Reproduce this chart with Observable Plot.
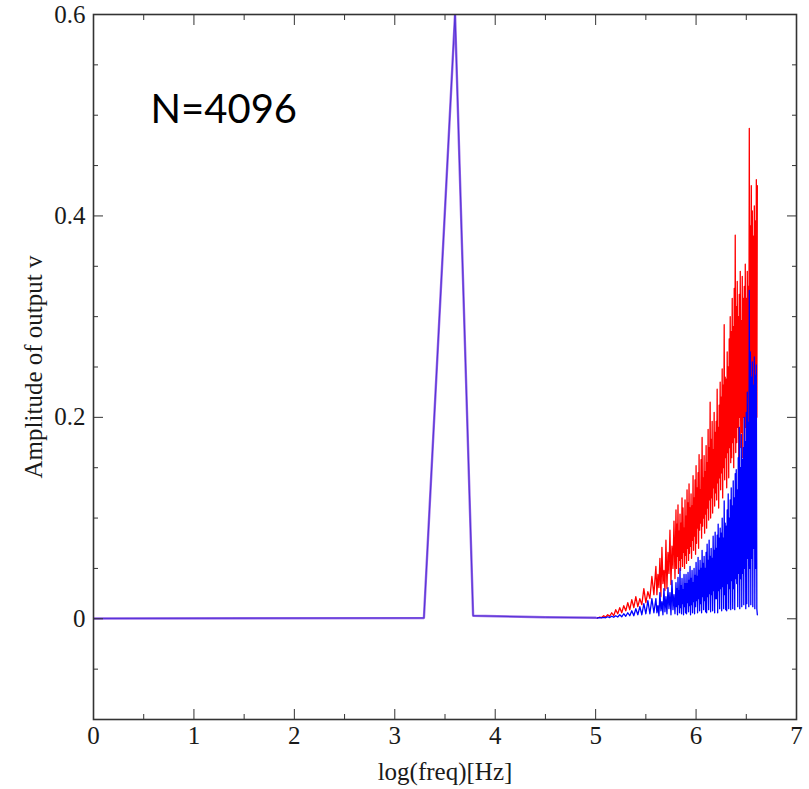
<!DOCTYPE html>
<html>
<head>
<meta charset="utf-8">
<script src="https://cdn.jsdelivr.net/npm/d3@7"></script>
<script src="https://cdn.jsdelivr.net/npm/@observablehq/plot@0.6"></script>
<style>
  html, body { margin: 0; padding: 0; background: #fff; }
  #chart { width: 809px; height: 789px; }
</style>
</head>
<body>
<div id="chart"></div>
<script>
// ---- data ----
const annotation = "N=4096";
const xLabel = "log(freq)[Hz]";
const yLabel = "Amplitude of output v";

const xMajorTicks = [0, 1, 2, 3, 4, 5, 6, 7];
const xMinorTicks = [0.5, 1.5, 2.5, 3.5, 4.5, 5.5, 6.5];
const yMajorTicks = [0, 0.2, 0.4, 0.6];
const yMinorTicks = [-0.1, -0.05, 0.05, 0.1, 0.15, 0.25, 0.3, 0.35, 0.45, 0.5, 0.55];

// common part of both spectra (the two curves coincide here)
const sharedX = [0, 3.29, 3.6, 3.78, 4.5, 5.0];
const sharedY = [0.0003, 0.0008, 0.6, 0.003, 0.0015, 0.001];

// high-frequency part, where the two spectra separate
const noiseX = [
  5.00, 5.02, 5.04, 5.06, 5.08, 5.10, 5.12, 5.14, 5.16, 5.18,
  5.20, 5.22, 5.24, 5.26, 5.28, 5.30, 5.32, 5.34, 5.36, 5.38,
  5.40, 5.42, 5.44, 5.46, 5.48, 5.50, 5.52, 5.54, 5.56, 5.58,
  5.60, 5.61, 5.62, 5.63, 5.64, 5.65, 5.66, 5.67, 5.68, 5.69,
  5.70, 5.71, 5.72, 5.73, 5.74, 5.75, 5.76, 5.77, 5.78, 5.79,
  5.800, 5.805, 5.810, 5.815, 5.820, 5.825, 5.830, 5.835, 5.840, 5.845,
  5.850, 5.855, 5.860, 5.865, 5.870, 5.875, 5.880, 5.885, 5.890, 5.895,
  5.900, 5.905, 5.910, 5.915, 5.920, 5.925, 5.930, 5.935, 5.940, 5.945,
  5.950, 5.955, 5.960, 5.965, 5.970, 5.975, 5.980, 5.985, 5.990, 5.995,
  6.000, 6.005, 6.010, 6.015, 6.020, 6.025, 6.030, 6.035, 6.040, 6.045,
  6.050, 6.055, 6.060, 6.065, 6.070, 6.075, 6.080, 6.085, 6.090, 6.095,
  6.100, 6.105, 6.110, 6.115, 6.120, 6.125, 6.130, 6.135, 6.140, 6.145,
  6.150, 6.155, 6.160, 6.165, 6.170, 6.175, 6.180, 6.185, 6.190, 6.195,
  6.200, 6.205, 6.210, 6.215, 6.220, 6.225, 6.230, 6.235, 6.240, 6.245,
  6.250, 6.255, 6.260, 6.265, 6.270, 6.275, 6.280, 6.285, 6.290, 6.295,
  6.300, 6.305, 6.310, 6.315, 6.320, 6.325, 6.330, 6.335, 6.340, 6.345,
  6.350, 6.355, 6.360, 6.365, 6.370, 6.375, 6.380, 6.385, 6.390, 6.395,
  6.400, 6.405, 6.410, 6.415, 6.420, 6.425, 6.430, 6.435, 6.440, 6.445,
  6.450, 6.455, 6.460, 6.465, 6.470, 6.475, 6.480, 6.485, 6.490, 6.495,
  6.500, 6.505, 6.510, 6.515, 6.520, 6.525, 6.530, 6.535, 6.540, 6.545,
  6.550, 6.555, 6.560, 6.565, 6.570, 6.575, 6.580, 6.585, 6.590, 6.595,
  6.600, 6.605, 6.610
];

const redY = [
  0.001, 0.0008, 0.0016, 0.0012, 0.003, 0.0018, 0.004, 0.0025, 0.006, 0.003,
  0.009, 0.005, 0.011, 0.006, 0.013, 0.008, 0.016, 0.009, 0.019, 0.011,
  0.022, 0.012, 0.02, 0.014, 0.03, 0.016, 0.027, 0.02, 0.042, 0.024,
  0.052, 0.024, 0.044, 0.031, 0.06, 0.022, 0.071, 0.035, 0.048, 0.028,
  0.078, 0.03, 0.066, 0.045, 0.088, 0.034, 0.072, 0.05, 0.097, 0.04,
  0.108, 0.05, 0.094, 0.062, 0.113, 0.045, 0.087, 0.058, 0.104, 0.048,
  0.095, 0.06, 0.12, 0.052, 0.11, 0.066, 0.09, 0.05, 0.118, 0.063,
  0.102, 0.055, 0.128, 0.07, 0.115, 0.058, 0.134, 0.065, 0.11, 0.072,
  0.124, 0.06, 0.112, 0.078, 0.142, 0.068, 0.12, 0.082, 0.138, 0.064,
  0.152, 0.075, 0.13, 0.09, 0.145, 0.07, 0.163, 0.088, 0.128, 0.095,
  0.158, 0.08, 0.18, 0.092, 0.14, 0.1, 0.162, 0.085, 0.146, 0.104,
  0.172, 0.09, 0.155, 0.11, 0.188, 0.098, 0.17, 0.118, 0.215, 0.1,
  0.178, 0.12, 0.196, 0.105, 0.168, 0.13, 0.205, 0.112, 0.185, 0.125,
  0.196, 0.118, 0.228, 0.135, 0.19, 0.11, 0.212, 0.14, 0.235, 0.128,
  0.22, 0.145, 0.248, 0.12, 0.232, 0.15, 0.292, 0.138, 0.24, 0.16,
  0.238, 0.13, 0.265, 0.165, 0.25, 0.14, 0.278, 0.17, 0.3, 0.155,
  0.285, 0.16, 0.318, 0.175, 0.29, 0.15, 0.328, 0.18, 0.381, 0.165,
  0.31, 0.175, 0.335, 0.19, 0.3, 0.16, 0.322, 0.2, 0.345, 0.17,
  0.296, 0.185, 0.34, 0.16, 0.318, 0.2, 0.33, 0.175, 0.352, 0.19,
  0.318, 0.15, 0.345, 0.22, 0.33, 0.18, 0.487, 0.2, 0.39, 0.24,
  0.43, 0.18, 0.405, 0.22, 0.38, 0.16, 0.41, 0.2, 0.395, 0.17,
  0.436, 0.2, 0.43
];

const blueY = [
  0.001, 0.0008, 0.0012, 0.0009, 0.0015, 0.001, 0.002, 0.0012, 0.0025, 0.0015,
  0.003, 0.0018, 0.004, 0.002, 0.005, 0.0025, 0.006, 0.003, 0.008, 0.003,
  0.01, 0.004, 0.012, 0.004, 0.015, 0.005, 0.018, 0.005, 0.02, 0.006,
  0.02, 0.006, 0.013, 0.003, 0.026, 0.008, 0.017, 0.004, 0.03, 0.007,
  0.022, 0.005, 0.031, 0.01, 0.026, 0.004, 0.038, 0.009, 0.024, 0.005,
  0.036, 0.012, 0.03, 0.004, 0.041, 0.014, 0.028, 0.006, 0.05, 0.011,
  0.033, 0.005, 0.04, 0.015, 0.029, 0.004, 0.044, 0.012, 0.035, 0.006,
  0.044, 0.005, 0.035, 0.016, 0.046, 0.007, 0.038, 0.013, 0.052, 0.004,
  0.04, 0.014, 0.048, 0.006, 0.036, 0.017, 0.05, 0.005, 0.043, 0.012,
  0.056, 0.018, 0.042, 0.006, 0.061, 0.02, 0.048, 0.008, 0.058, 0.015,
  0.05, 0.006, 0.068, 0.022, 0.055, 0.009, 0.062, 0.018, 0.05, 0.007,
  0.066, 0.006, 0.074, 0.022, 0.058, 0.009, 0.078, 0.025, 0.062, 0.007,
  0.07, 0.024, 0.06, 0.008, 0.082, 0.028, 0.068, 0.006, 0.086, 0.02,
  0.07, 0.02, 0.083, 0.006, 0.094, 0.028, 0.08, 0.01, 0.09, 0.03,
  0.085, 0.008, 0.1, 0.032, 0.08, 0.01, 0.117, 0.024, 0.095, 0.009,
  0.092, 0.008, 0.108, 0.035, 0.124, 0.01, 0.1, 0.03, 0.118, 0.009,
  0.13, 0.038, 0.112, 0.01, 0.137, 0.03, 0.12, 0.009, 0.144, 0.04,
  0.148, 0.035, 0.128, 0.012, 0.16, 0.045, 0.19, 0.01, 0.15, 0.04,
  0.183, 0.012, 0.158, 0.045, 0.17, 0.014, 0.2, 0.05, 0.176, 0.01,
  0.205, 0.015, 0.225, 0.06, 0.195, 0.012, 0.326, 0.05, 0.265, 0.014,
  0.24, 0.06, 0.255, 0.012, 0.232, 0.07, 0.26, 0.01, 0.242, 0.05,
  0.252, 0.01, 0.004
];

// ---- tables built from the arrays ----
const shared = sharedX.map((x, i) => ({x, y: sharedY[i]}));
const red = noiseX.map((x, i) => ({x, y: redY[i]}));
const blue = noiseX.map((x, i) => ({x, y: blueY[i]}));

const serif = "'Liberation Serif', 'Times New Roman', serif";
const axisColor = "#333";
const noText = () => "";

const chart = Plot.plot({
  width: 809,
  height: 789,
  marginLeft: 93,
  marginRight: 13,
  marginTop: 14,
  marginBottom: 70,
  x: {domain: [0, 7]},
  y: {domain: [-0.1, 0.6]},
  style: {fontFamily: serif, fontSize: "25px", color: "#1a1a1a", background: "#fff"},
  marks: [
    // data
    Plot.line(red, {x: "x", y: "y", stroke: "#ff0000", strokeWidth: 1.3, clip: true}),
    Plot.line(blue, {x: "x", y: "y", stroke: "#0000ff", strokeWidth: 1.3, clip: true}),
    Plot.line(shared, {x: "x", y: "y", stroke: "#9a6ae6", strokeWidth: 2.4, clip: true}),
    Plot.line(shared, {x: "x", y: "y", stroke: "#4b2bd6", strokeWidth: 0.9, clip: true}),

    // tick labels
    Plot.axisX(xMajorTicks, {anchor: "bottom", tickSize: 0, tickPadding: 7, label: null, fontSize: 25, fontFamily: serif}),
    Plot.axisY(yMajorTicks, {anchor: "left", tickSize: 0, tickPadding: 8, label: null, fontSize: 25, fontFamily: serif, tickFormat: d => d === 0 ? "0" : d3.format(".1f")(d)}),

    // inward tick marks on all four sides
    Plot.axisX(xMajorTicks, {anchor: "bottom", tickSize: -10, tickFormat: noText, label: null, stroke: axisColor}),
    Plot.axisX(xMinorTicks, {anchor: "bottom", tickSize: -5, tickFormat: noText, label: null, stroke: axisColor}),
    Plot.axisX(xMajorTicks, {anchor: "top", tickSize: -10, tickFormat: noText, label: null, stroke: axisColor}),
    Plot.axisX(xMinorTicks, {anchor: "top", tickSize: -5, tickFormat: noText, label: null, stroke: axisColor}),
    Plot.axisY(yMajorTicks, {anchor: "left", tickSize: -10, tickFormat: noText, label: null, stroke: axisColor}),
    Plot.axisY(yMinorTicks, {anchor: "left", tickSize: -5, tickFormat: noText, label: null, stroke: axisColor}),
    Plot.axisY(yMajorTicks, {anchor: "right", tickSize: -10, tickFormat: noText, label: null, stroke: axisColor}),
    Plot.axisY(yMinorTicks, {anchor: "right", tickSize: -5, tickFormat: noText, label: null, stroke: axisColor}),

    Plot.frame({stroke: axisColor, strokeWidth: 1.6}),

    // axis titles
    Plot.text([xLabel], {frameAnchor: "bottom", dy: 60, lineAnchor: "bottom", textAnchor: "middle", fontSize: 25, fontFamily: serif, fill: "#1a1a1a"}),
    Plot.text([yLabel], {frameAnchor: "left", dx: -60, rotate: -90, lineAnchor: "middle", textAnchor: "middle", fontSize: 25, fontFamily: serif, fill: "#1a1a1a"}),

    // annotation
    Plot.text([annotation], {frameAnchor: "top-left", dx: 57, dy: 108, lineAnchor: "bottom", textAnchor: "start", fontSize: 40, fontFamily: "Lato, 'Open Sans', sans-serif", fill: "#000"})
  ]
});
document.getElementById("chart").append(chart);
</script>
</body>
</html>
